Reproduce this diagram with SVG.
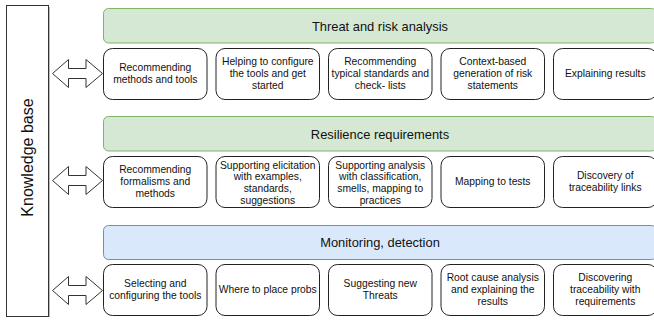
<svg xmlns="http://www.w3.org/2000/svg" width="654" height="320" viewBox="0 0 654 320">
<style>
  .box { fill: #ffffff; stroke: #222222; stroke-width: 1; }
  .green { fill: #d5e8d4; stroke: #82b366; stroke-width: 1; }
  .blue { fill: #dae8fc; stroke: #6c8ebf; stroke-width: 1; }
  .kb { fill: #ffffff; stroke: #333333; stroke-width: 1; }
  .t { font-family: "Liberation Sans", Arial, sans-serif; font-size: 10.3px; fill: #111111; text-anchor: middle; }
  .h { font-family: "Liberation Sans", Arial, sans-serif; font-size: 12.9px; fill: #111111; text-anchor: middle; }
  .k { font-family: "Liberation Sans", Arial, sans-serif; font-size: 16px; fill: #111111; text-anchor: middle; }
  .arrow { fill: #ffffff; stroke: #333333; stroke-width: 1; stroke-linejoin: miter; }
</style>
<rect width="654" height="320" fill="#ffffff"/>

<g id="knowledge-base">
  <line x1="49.5" y1="7" x2="49.5" y2="317" stroke="#bbbbbb" stroke-width="1"/>
  <rect class="kb" x="6.5" y="5.5" width="42" height="311"/>
  <text class="k" transform="translate(33,157.5) rotate(-90)" x="0" y="0">Knowledge base</text>
</g>

<g id="threat-header">
  <rect class="green" x="103.5" y="8.5" width="553" height="34.5" rx="5"/>
  <text class="h" x="380" y="30.5">Threat and risk analysis</text>
</g>
<g id="resilience-header">
  <rect class="green" x="103.5" y="116.5" width="553" height="34.5" rx="5"/>
  <text class="h" x="380" y="138.5">Resilience requirements</text>
</g>
<g id="monitoring-header">
  <rect class="blue" x="103.5" y="225.5" width="553" height="34" rx="5"/>
  <text class="h" x="380" y="247">Monitoring, detection</text>
</g>

<!-- Row 1 -->
<g id="r1-recommending-methods">
  <rect class="box" x="103.5" y="48.5" width="103.5" height="51" rx="9"/>
  <text class="t" x="155.25" y="71.3">Recommending</text>
  <text class="t" x="155.25" y="83.1">methods and tools</text>
</g>
<g id="r1-helping-configure">
  <rect class="box" x="216" y="48.5" width="103.5" height="51" rx="9"/>
  <text class="t" x="267.75" y="65.4">Helping to configure</text>
  <text class="t" x="267.75" y="77.2">the tools and get</text>
  <text class="t" x="267.75" y="89">started</text>
</g>
<g id="r1-recommending-standards">
  <rect class="box" x="328.5" y="48.5" width="103.5" height="51" rx="9"/>
  <text class="t" x="380.25" y="65.4">Recommending</text>
  <text class="t" x="380.25" y="77.2">typical standards and</text>
  <text class="t" x="380.25" y="89">check- lists</text>
</g>
<g id="r1-context-risk">
  <rect class="box" x="441" y="48.5" width="103.5" height="51" rx="9"/>
  <text class="t" x="492.75" y="65.4">Context-based</text>
  <text class="t" x="492.75" y="77.2">generation of risk</text>
  <text class="t" x="492.75" y="89">statements</text>
</g>
<g id="r1-explaining-results">
  <rect class="box" x="553.5" y="48.5" width="103.5" height="51" rx="9"/>
  <text class="t" x="605.25" y="77.2">Explaining results</text>
</g>

<!-- Row 2 -->
<g id="r2-recommending-formalisms">
  <rect class="box" x="103.5" y="156.5" width="103.5" height="51" rx="9"/>
  <text class="t" x="155.25" y="173.4">Recommending</text>
  <text class="t" x="155.25" y="185.2">formalisms and</text>
  <text class="t" x="155.25" y="197">methods</text>
</g>
<g id="r2-supporting-elicitation">
  <rect class="box" x="216" y="156.5" width="103.5" height="51" rx="9"/>
  <text class="t" x="267.75" y="168.5">Supporting elicitation</text>
  <text class="t" x="267.75" y="180.3">with examples,</text>
  <text class="t" x="267.75" y="192.1">standards,</text>
  <text class="t" x="267.75" y="203.9">suggestions</text>
</g>
<g id="r2-supporting-analysis">
  <rect class="box" x="328.5" y="156.5" width="103.5" height="51" rx="9"/>
  <text class="t" x="380.25" y="168.5">Supporting analysis</text>
  <text class="t" x="380.25" y="180.3">with classification,</text>
  <text class="t" x="380.25" y="192.1">smells, mapping to</text>
  <text class="t" x="380.25" y="203.9">practices</text>
</g>
<g id="r2-mapping-tests">
  <rect class="box" x="441" y="156.5" width="103.5" height="51" rx="9"/>
  <text class="t" x="492.75" y="185.2">Mapping to tests</text>
</g>
<g id="r2-discovery-traceability">
  <rect class="box" x="553.5" y="156.5" width="103.5" height="51" rx="9"/>
  <text class="t" x="605.25" y="179.3">Discovery of</text>
  <text class="t" x="605.25" y="191.1">traceability links</text>
</g>

<!-- Row 3 -->
<g id="r3-selecting-tools">
  <rect class="box" x="103.5" y="264.5" width="103.5" height="51" rx="9"/>
  <text class="t" x="155.25" y="287.3">Selecting and</text>
  <text class="t" x="155.25" y="299.1">configuring the tools</text>
</g>
<g id="r3-where-probs">
  <rect class="box" x="216" y="264.5" width="103.5" height="51" rx="9"/>
  <text class="t" x="267.75" y="293.2">Where to place probs</text>
</g>
<g id="r3-suggesting-threats">
  <rect class="box" x="328.5" y="264.5" width="103.5" height="51" rx="9"/>
  <text class="t" x="380.25" y="287.3">Suggesting new</text>
  <text class="t" x="380.25" y="299.1">Threats</text>
</g>
<g id="r3-root-cause">
  <rect class="box" x="441" y="264.5" width="103.5" height="51" rx="9"/>
  <text class="t" x="492.75" y="281.4">Root cause analysis</text>
  <text class="t" x="492.75" y="293.2">and explaining the</text>
  <text class="t" x="492.75" y="305">results</text>
</g>
<g id="r3-discovering-traceability">
  <rect class="box" x="553.5" y="264.5" width="103.5" height="51" rx="9"/>
  <text class="t" x="605.25" y="281.4">Discovering</text>
  <text class="t" x="605.25" y="293.2">traceability with</text>
  <text class="t" x="605.25" y="305">requirements</text>
</g>

<g id="connectors">
  <polygon class="arrow" points="52.5,73.5 68.5,59.5 68.5,68.5 86,68.5 86,59.5 102.5,73.5 86,87.5 86,78.5 68.5,78.5 68.5,87.5"/>
  <polygon class="arrow" points="52.5,180.5 68.5,166.5 68.5,175.5 86,175.5 86,166.5 102.5,180.5 86,194.5 86,185.5 68.5,185.5 68.5,194.5"/>
  <polygon class="arrow" points="52.5,290.5 68.5,276.5 68.5,285.5 86,285.5 86,276.5 102.5,290.5 86,304.5 86,295.5 68.5,295.5 68.5,304.5"/>
</g>
</svg>
